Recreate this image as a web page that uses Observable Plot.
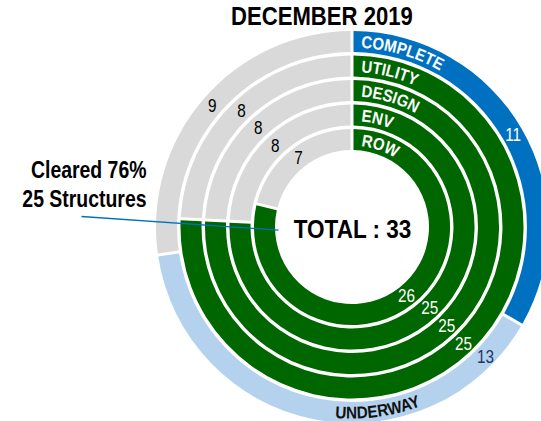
<!DOCTYPE html>
<html><head><meta charset="utf-8">
<script src="https://cdn.jsdelivr.net/npm/d3@7"></script>
<script src="https://cdn.jsdelivr.net/npm/@observablehq/plot@0.6"></script>
<style>
body{margin:0;background:#fff;overflow:hidden;}
#title{width:358px;margin-left:143px;height:30px;padding-top:1px;box-sizing:border-box;text-align:center;
  font:bold 26px/30px "Liberation Sans",Arial,sans-serif;color:#000;}
#title span{display:inline-block;transform:scaleX(0.85);transform-origin:50% 50%;}
</style></head><body>
<div id="title"><span></span></div>
<div id="chart"></div>
<script>
// ---- data ----
const chartTitle = "DECEMBER 2019";
const total = 33;
const ringNames = ["ROW", "ENV", "DESIGN", "UTILITY", "STATUS"];      // inner -> outer
const ringTitles = ["ROW", "ENV", "DESIGN", "UTILITY", "COMPLETE"];
const clearedCounts = [26, 25, 25, 25];    // ROW, ENV, DESIGN, UTILITY
const remainingCounts = [7, 8, 8, 8];
const statusNames = ["COMPLETE", "UNDERWAY", "NOT STARTED"];
const statusCounts = [11, 13, 9];
const centerLabel = "TOTAL : 33";
const clearedStructures = 25;

// ---- styles ----
const FONT = '"Liberation Sans",Arial,sans-serif';
const GREEN = "#006600", GREY = "#D9D9D9", BLUE = "#0070C0", LIGHT = "#B4D2EE";
const statusColors = [BLUE, LIGHT, GREY];
const statusText = ["#ffffff", "#1F3864", "#000000"];

document.querySelector("#title span").textContent = chartTitle;

// ---- segments ----
const segments = [];
clearedCounts.forEach((c, i) => {
  segments.push({ring: ringNames[i], start: 0, end: c, value: c, color: GREEN, text: "#ffffff"});
  segments.push({ring: ringNames[i], start: c, end: c + remainingCounts[i], value: remainingCounts[i], color: GREY, text: "#000000"});
});
let acc = 0;
statusCounts.forEach((v, j) => {
  segments.push({ring: "STATUS", name: statusNames[j], start: acc, end: acc + v, value: v, color: statusColors[j], text: statusText[j]});
  acc += v;
});

// ---- scales ----
const angle = Plot.scale({x: {domain: [0, total], range: [0, 2 * Math.PI]}});
const radius = Plot.scale({y: {type: "band", domain: ringNames, range: [77, 196], paddingInner: 0.14, paddingOuter: 0}});
const bw = radius.bandwidth;
const rMid = ring => radius.apply(ring) + bw / 2;
const px = (a, r) => r * Math.sin(a);
const py = (a, r) => r * Math.cos(a);

// label angle: mid of segment (UNDERWAY count sits near the segment start)
const labelPos = d => d.name === "UNDERWAY" ? d.start + 1.3 : (d.start + d.end) / 2;

const ctx = document.createElement("canvas").getContext("2d");
function textWidth(str, font) { ctx.font = font; return ctx.measureText(str).width; }

function rings(index, scales) {
  const cx = scales.x(0), cy = scales.y(0);
  const g = d3.create("svg:g").attr("transform", `translate(${cx},${cy})`);
  const arc = d3.arc().padRadius(100).padAngle(0.03);
  g.selectAll("path.seg").data(segments).join("path").attr("class", "seg")
    .attr("fill", d => d.color)
    .attr("d", d => arc({innerRadius: radius.apply(d.ring), outerRadius: radius.apply(d.ring) + bw,
      startAngle: angle.apply(d.start), endAngle: angle.apply(d.end)}));
  // curved ring titles
  const fs = 17, cap = fs * 0.72, squeeze = 0.88;
  const font = `bold ${fs}px "Liberation Sans"`;
  const defs = g.append("defs");
  ringNames.forEach((ring, i) => {
    const r = rMid(ring) - cap / 2;
    const a0 = 0, a1 = Math.PI / 2;
    defs.append("path").attr("id", "tp" + i)
      .attr("d", `M${r * Math.sin(a0)},${-r * Math.cos(a0)} A${r},${r} 0 0 1 ${r * Math.sin(a1)},${-r * Math.cos(a1)}`);
    g.append("text").attr("class", "curved").attr("fill", "#fff").attr("font-family", FONT).attr("font-weight", "bold").attr("font-size", fs)
      .attr("text-anchor", "start")
      .append("textPath").attr("href", "#tp" + i).attr("startOffset", 9)
      .attr("textLength", textWidth(ringTitles[i], font) * squeeze).attr("lengthAdjust", "spacingAndGlyphs")
      .text(ringTitles[i]);
  });
  // UNDERWAY along the bottom
  const rb = rMid("STATUS") + cap / 2;
  const c = 172 * Math.PI / 180, s = 40 * Math.PI / 180;
  const b0 = c + s, b1 = c - s;
  defs.append("path").attr("id", "tpb")
    .attr("d", `M${rb * Math.sin(b0)},${-rb * Math.cos(b0)} A${rb},${rb} 0 0 0 ${rb * Math.sin(b1)},${-rb * Math.cos(b1)}`);
  g.append("text").attr("class", "curved").attr("fill", "#111").attr("font-family", FONT).attr("font-weight", "bold").attr("font-size", fs)
    .attr("text-anchor", "middle")
    .append("textPath").attr("href", "#tpb").attr("startOffset", "50%")
    .attr("textLength", textWidth(statusNames[1], font) * 0.9).attr("lengthAdjust", "spacingAndGlyphs")
    .text(statusNames[1]);
  return g.node();
}

const leaderEnd = {a: angle.apply(total * 268 / 360), r: radius.apply("ROW") - 3};
const calloutText = `Cleared ${Math.round(clearedStructures / total * 100)}%\n${clearedStructures} Structures`;

const plot = Plot.plot({
  width: 541, height: 391, margin: 0,
  x: {domain: [-352, 189], axis: null},
  y: {domain: [-194, 197], axis: null},
  marks: [
    rings,
    Plot.text(segments, {
      x: d => px(angle.apply(labelPos(d)), rMid(d.ring)),
      y: d => py(angle.apply(labelPos(d)), rMid(d.ring)),
      text: d => String(d.value), fill: d => d.text,
      fontFamily: FONT, fontSize: 18
    }),
    Plot.text([centerLabel], {x: () => 0, y: () => 0, dy: 2, text: d => d, fontFamily: FONT, fontWeight: "bold", fontSize: 25, fill: "#000"}),
    Plot.text([calloutText], {
      x: () => -206, y: () => 44, text: d => d, textAnchor: "end", lineHeight: 1.22,
      fontFamily: FONT, fontWeight: "bold", fontSize: 23, fill: "#000"
    }),
    Plot.link([leaderEnd], {x1: () => -271, y1: () => 11, x2: d => px(d.a, d.r), y2: d => py(d.a, d.r), stroke: BLUE, strokeWidth: 1.3})
  ]
});
// condense the Arial-like glyphs to match the narrow face of the original
d3.select(plot).selectAll("text").each(function () {
  if (this.classList.contains("curved") || this.querySelector("textPath")) return;
  const s = this.textContent;
  let k = null;
  if (/^\d+$/.test(s)) k = 0.85;
  else if (s.startsWith("TOTAL")) k = 0.9;
  else if (s.startsWith("Cleared")) k = 0.845;
  if (k == null) return;
  const t = this.getAttribute("transform") || "";
  this.setAttribute("transform", `${t} scale(${k},1)`);
});
document.getElementById("chart").appendChild(plot);
</script>
</body></html>
